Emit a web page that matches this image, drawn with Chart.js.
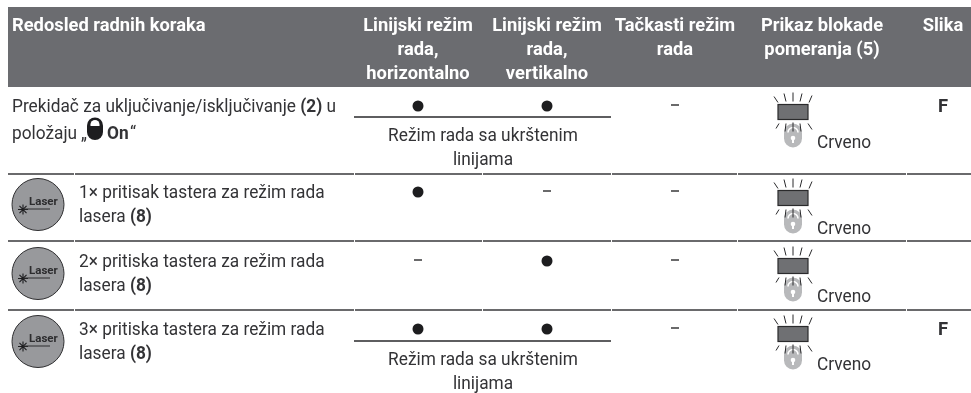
<!DOCTYPE html>
<html lang="sr-Latn">
<head>
    <meta charset="UTF-8"/>
    <title>Redosled radnih koraka</title>
    <style>
        html, body { margin: 0; padding: 0; background: #fff; }
        canvas { display: block; }
    </style>
    <script src="https://cdn.jsdelivr.net/npm/chart.js"></script>
</head>
<body>
    <canvas id="myChart" width="971" height="393"></canvas>
    <script>
        // table content
        const stepHead = "Redosled radnih koraka";
        const columnHeads = [
            ["Linijski režim", "rada,", "horizontalno"],
            ["Linijski režim", "rada,", "vertikalno"],
            ["Tačkasti režim", "rada"],
            ["Prikaz blokade", "pomeranja (5)"],
            ["Slika"]
        ];
        // 1 = dot, 0 = dash
        const horizontalMode = [1, 1, 0, 1];
        const verticalMode = [1, 0, 1, 1];
        const pointMode = [0, 0, 0, 0];
        const lockColor = ["Crveno", "Crveno", "Crveno", "Crveno"];
        const figureRef = ["F", "", "", "F"];
        const crossNote = ["Režim rada sa ukrštenim", "linijama"];
        const crossRows = [0, 3];
        const laserRows = [1, 2, 3];
        const stepLines = [
            null,
            [["1× pritisak tastera za režim rada"], ["lasera ", "(8)"]],
            [["2× pritiska tastera za režim rada"], ["lasera ", "(8)"]],
            [["3× pritiska tastera za režim rada"], ["lasera ", "(8)"]]
        ];

        // layout, in canvas units
        const colX = [418, 547, 675, 793, 943];
        const headX = [418, 547, 675, 822, 943];
        const rowY = [106, 192, 261, 329];
        const colorBase = [148, 234, 302, 370];
        const ruleY = [174, 241, 310];
        const ruleStops = [8, 74, 75, 354, 355, 482, 483, 611, 612, 737, 738, 906, 907, 971];
        const noteRuleY = [117, 341];
        const noteRuleX = [354, 611];
        const ink = "#333336";
        const bodyFont = "18px Roboto";
        const boldFont = "bold 18px Roboto";
        const headFont = "bold 18.5px Roboto";
        const bodyNarrow = 0.96;
        const headNarrow = 0.99;

        function marks(series, col, wanted) {
            const out = [];
            series.forEach(function (v, i) {
                if (v === wanted) out.push({ x: colX[col], y: rowY[i] - (wanted ? 0 : 1) });
            });
            return out;
        }

        function allMarks(wanted) {
            return marks(horizontalMode, 0, wanted)
                .concat(marks(verticalMode, 1, wanted))
                .concat(marks(pointMode, 2, wanted));
        }

        function ruleData() {
            const out = [];
            ruleY.forEach(function (y) {
                for (let i = 0; i < ruleStops.length; i += 2) {
                    out.push({ x: ruleStops[i], y: y }, { x: ruleStops[i + 1], y: y }, { x: ruleStops[i + 1], y: null });
                }
            });
            return out;
        }

        function noteRuleData() {
            const out = [];
            noteRuleY.forEach(function (y) {
                out.push({ x: noteRuleX[0], y: y }, { x: noteRuleX[1], y: y }, { x: noteRuleX[1], y: null });
            });
            return out;
        }

        // no narrow family is installed, so squeeze Roboto a little
        function put(ctx, str, x, y, k) {
            ctx.save();
            ctx.translate(x, y);
            ctx.scale(k, 1);
            ctx.fillText(str, 0, 0);
            ctx.restore();
        }

        function runs(ctx, parts, x, y) {
            parts.forEach(function (p, i) {
                ctx.font = i % 2 ? boldFont : bodyFont;
                put(ctx, p, x, y, bodyNarrow);
                x += ctx.measureText(p).width * bodyNarrow;
            });
            return x;
        }

        function inlineLock(ctx, x, top) {
            ctx.fillStyle = "#1d1d1f";
            ctx.beginPath();
            ctx.roundRect(x - 8, top, 16, 22.5, 8);
            ctx.fill();
            ctx.fillStyle = "#fff";
            ctx.beginPath();
            ctx.roundRect(x - 4.5, top + 2.5, 9, 6, [4.5, 4.5, 0, 0]);
            ctx.fill();
        }

        function lockIcon(ctx, cx, top) {
            // grey pill with a white shackle and keyhole
            ctx.fillStyle = "#b8b9bb";
            ctx.beginPath();
            ctx.roundRect(cx - 9, top + 19, 18, 24, 9);
            ctx.fill();
            ctx.strokeStyle = "#fff";
            ctx.lineWidth = 1.6;
            ctx.beginPath();
            ctx.arc(cx, top + 28, 5, Math.PI, 0);
            ctx.stroke();
            ctx.fillStyle = "#fff";
            ctx.beginPath();
            ctx.arc(cx, top + 33.5, 2.3, 0, Math.PI * 2);
            ctx.fill();
            ctx.fillRect(cx - 1, top + 33.5, 2, 5);

            ctx.fillStyle = "#6f7073";
            ctx.strokeStyle = "#2a2a2c";
            ctx.lineWidth = 1.2;
            ctx.fillRect(cx - 15, top, 30, 15);
            ctx.strokeRect(cx - 15, top, 30, 15);
            ctx.lineWidth = 1;
            const rays = [[-19, -8, -15, -2], [-9, -11, -7, -3], [0, -12, 0, -3], [9, -11, 7, -3], [19, -9, 16, -2],
                          [-17, 24, -14, 19], [-8, 27, -7, 19], [0, 27, 0, 18], [8, 27, 7, 19], [19, 25, 15, 19]];
            rays.forEach(function (r) {
                ctx.beginPath();
                ctx.moveTo(cx + r[0], top + r[1]);
                ctx.lineTo(cx + r[2], top + r[3]);
                ctx.stroke();
            });
        }

        const headerBand = {
            id: "headerBand",
            beforeDatasetsDraw: function (chart) {
                const x = chart.scales.x, y = chart.scales.y, ctx = chart.ctx;
                ctx.save();
                ctx.fillStyle = "#6b6c70";
                ctx.fillRect(x.getPixelForValue(8), y.getPixelForValue(7), x.getPixelForValue(971) - x.getPixelForValue(8), y.getPixelForValue(87) - y.getPixelForValue(7));
                ctx.restore();
            }
        };

        const tableText = {
            id: "tableText",
            afterDatasetsDraw: function (chart) {
                const sx = chart.scales.x, sy = chart.scales.y, ctx = chart.ctx;
                const px = function (v) { return sx.getPixelForValue(v); };
                const py = function (v) { return sy.getPixelForValue(v); };
                ctx.save();
                ctx.textBaseline = "alphabetic";

                // header
                ctx.fillStyle = "#fff";
                ctx.font = headFont;
                ctx.textAlign = "left";
                put(ctx, stepHead, px(12), py(31), headNarrow);
                ctx.textAlign = "center";
                columnHeads.forEach(function (lines, c) {
                    lines.forEach(function (line, i) {
                        put(ctx, line, px(headX[c]), py(31 + i * 24), headNarrow);
                    });
                });

                // first row, with the padlock glyph
                ctx.fillStyle = ink;
                ctx.textAlign = "left";
                runs(ctx, ["Prekidač za uključivanje/isključivanje ", "(2)", " u"], px(12), py(112));
                runs(ctx, ["položaju"], px(12), py(139));
                runs(ctx, ["„"], px(81), py(139));
                inlineLock(ctx, px(95), py(117.5));
                ctx.fillStyle = ink;
                runs(ctx, ["", "On"], px(107), py(139));
                runs(ctx, ["“"], px(130), py(139));

                // laser steps
                laserRows.forEach(function (r) {
                    const c = rowY[r] + 12.5;
                    stepLines[r].forEach(function (parts, i) {
                        ctx.fillStyle = ink;
                        ctx.textAlign = "left";
                        runs(ctx, parts, px(79), py(rowY[r] + 6 + i * 23.5));
                    });
                    ctx.fillStyle = "#2c2c2e";
                    ctx.font = "bold 11.5px Roboto";
                    ctx.fillText("Laser", px(29), py(c));
                    ctx.strokeStyle = "#2c2c2e";
                    ctx.lineWidth = 1;
                    ctx.beginPath();
                    ctx.moveTo(px(23), py(c + 4.5));
                    ctx.lineTo(px(50), py(c + 4.5));
                    ctx.stroke();
                });

                // cross-line note
                ctx.fillStyle = ink;
                ctx.font = bodyFont;
                ctx.textAlign = "center";
                crossRows.forEach(function (r, n) {
                    crossNote.forEach(function (line, i) {
                        put(ctx, line, px(483), py(noteRuleY[n] + 24 + i * 24), bodyNarrow);
                    });
                });

                // lock display and figure column
                lockColor.forEach(function (name, r) {
                    lockIcon(ctx, px(colX[3]), py(colorBase[r] - 43.5));
                    ctx.fillStyle = ink;
                    ctx.font = bodyFont;
                    ctx.textAlign = "left";
                    put(ctx, name, px(817), py(colorBase[r]), bodyNarrow);
                });
                ctx.font = headFont;
                ctx.textAlign = "center";
                figureRef.forEach(function (f, r) {
                    put(ctx, f, px(colX[4]), py(rowY[r] + 6), headNarrow);
                });
                ctx.restore();
            }
        };

        new Chart(document.getElementById("myChart").getContext("2d"), {
            type: "scatter",
            data: {
                datasets: [
                    { label: "laser star", data: laserRows.map(function (r) { return { x: 23, y: rowY[r] + 17.5 }; }), pointStyle: "star", pointRadius: 5, borderColor: "#1d1d1f", borderWidth: 1.1 },
                    { label: "rules", data: ruleData(), showLine: true, spanGaps: false, borderColor: "#3a3a3c", borderWidth: 1.4, pointRadius: 0 },
                    { label: "note rules", data: noteRuleData(), showLine: true, spanGaps: false, borderColor: "#2a2a2c", borderWidth: 1.4, pointRadius: 0 },
                    { label: "active", data: allMarks(1), pointStyle: "circle", pointRadius: 5.5, backgroundColor: "#1d1d1f", borderWidth: 0 },
                    { label: "inactive", data: allMarks(0), pointStyle: "line", pointRadius: 4, borderColor: "#2a2a2c", borderWidth: 1.4 },
                    { label: "laser button", data: laserRows.map(function (r) { return { x: 38, y: rowY[r] + 12.5 }; }), pointStyle: "circle", pointRadius: 26, backgroundColor: "#98999c", borderColor: "#2e2e30", borderWidth: 1 }
                ]
            },
            options: {
                responsive: false,
                animation: false,
                layout: { padding: 0, autoPadding: false },
                plugins: { legend: { display: false }, tooltip: { enabled: false } },
                scales: {
                    x: { type: "linear", display: false, min: 0, max: 971 },
                    y: { type: "linear", display: false, reverse: true, min: 0, max: 393 }
                }
            },
            plugins: [headerBand, tableText]
        });
    </script>
</body>
</html>
